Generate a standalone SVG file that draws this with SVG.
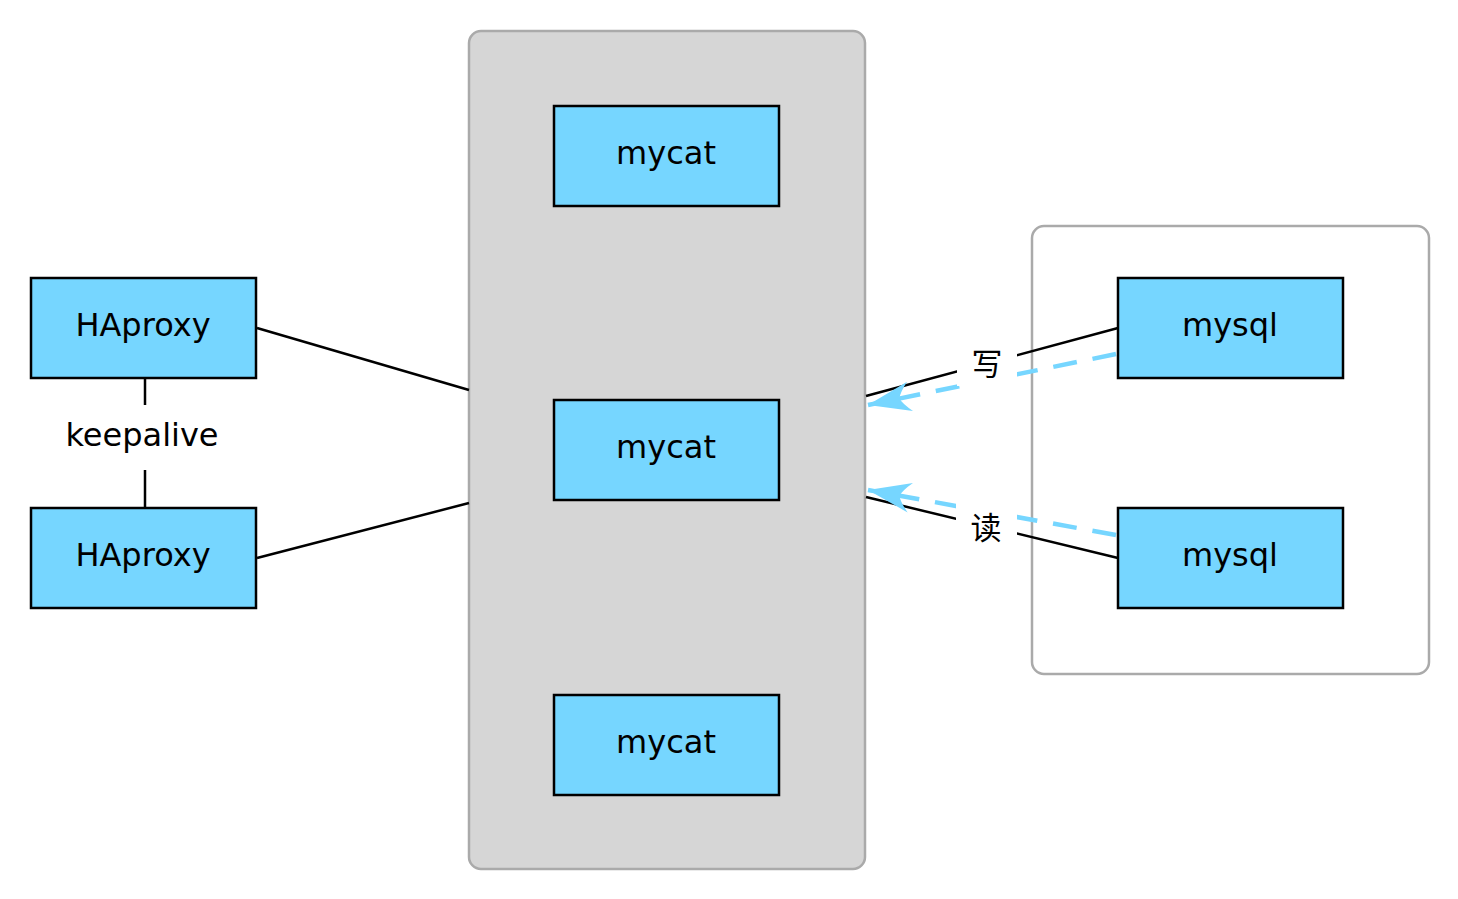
<svg xmlns="http://www.w3.org/2000/svg" width="1458" height="899" viewBox="0 0 1458 899">
<style>
.box{fill:#76d6ff;stroke:#000;stroke-width:2.5}
.lbl{font-family:"DejaVu Sans","Liberation Sans",sans-serif;font-size:32px;fill:#000;text-anchor:middle;dominant-baseline:central}
.cjk{font-family:"Noto Sans CJK SC","Noto Sans",sans-serif;font-size:31px;fill:#000;text-anchor:middle;dominant-baseline:central}
.ln{stroke:#000;stroke-width:2.5;fill:none}
.dash{stroke:#76d6ff;stroke-width:4.5;fill:none;stroke-dasharray:24 16}
.cont{stroke:#aaaaaa;stroke-width:2.5}
</style>
<defs>
<marker id="arr" markerUnits="userSpaceOnUse" viewBox="0 -16 44 32" markerWidth="44" markerHeight="32" refX="43" refY="0" orient="auto">
<path d="M43,0 L0,-15 Q9,-6 11,0 Q9,6 0,15 Z" fill="#76d6ff"/>
</marker>
</defs>
<g id="mycat-cluster"><rect class="cont" x="469" y="31" width="396" height="838" rx="12" fill="#d6d6d6"/></g>
<g id="mysql-cluster"><rect class="cont" x="1032" y="226" width="397" height="448" rx="12" fill="#ffffff"/></g>
<g id="connectors">
<line class="ln" x1="257" y1="328" x2="469" y2="390"/>
<line class="ln" x1="257" y1="558" x2="469" y2="503"/>
<line class="ln" x1="145" y1="378" x2="145" y2="405"/>
<line class="ln" x1="145" y1="470" x2="145" y2="508"/>
<line class="ln" x1="1118" y1="328" x2="866" y2="396"/>
<line class="ln" x1="1118" y1="558" x2="866" y2="497"/>
<line class="dash" x1="1116" y1="354" x2="868" y2="405" marker-end="url(#arr)"/>
<line class="dash" x1="1116" y1="535" x2="868" y2="490" marker-end="url(#arr)"/>
<rect x="957" y="338" width="60" height="48" fill="#ffffff"/>
<rect x="956" y="502" width="61" height="48" fill="#ffffff"/>
<text class="cjk" x="987" y="361">写</text>
<text class="cjk" x="986" y="525">读</text>
<rect x="92" y="410" width="106" height="56" fill="#ffffff"/>
<text class="lbl" x="142" y="435">keepalive</text>
</g>
<g id="haproxy1"><rect class="box" x="31" y="278" width="225" height="100"/><text class="lbl" x="143" y="325">HAproxy</text></g>
<g id="haproxy2"><rect class="box" x="31" y="508" width="225" height="100"/><text class="lbl" x="143" y="555">HAproxy</text></g>
<g id="mycat1"><rect class="box" x="554" y="106" width="225" height="100"/><text class="lbl" x="666" y="153">mycat</text></g>
<g id="mycat2"><rect class="box" x="554" y="400" width="225" height="100"/><text class="lbl" x="666" y="447">mycat</text></g>
<g id="mycat3"><rect class="box" x="554" y="695" width="225" height="100"/><text class="lbl" x="666" y="742">mycat</text></g>
<g id="mysql1"><rect class="box" x="1118" y="278" width="225" height="100"/><text class="lbl" x="1230" y="325">mysql</text></g>
<g id="mysql2"><rect class="box" x="1118" y="508" width="225" height="100"/><text class="lbl" x="1230" y="555">mysql</text></g>
</svg>
